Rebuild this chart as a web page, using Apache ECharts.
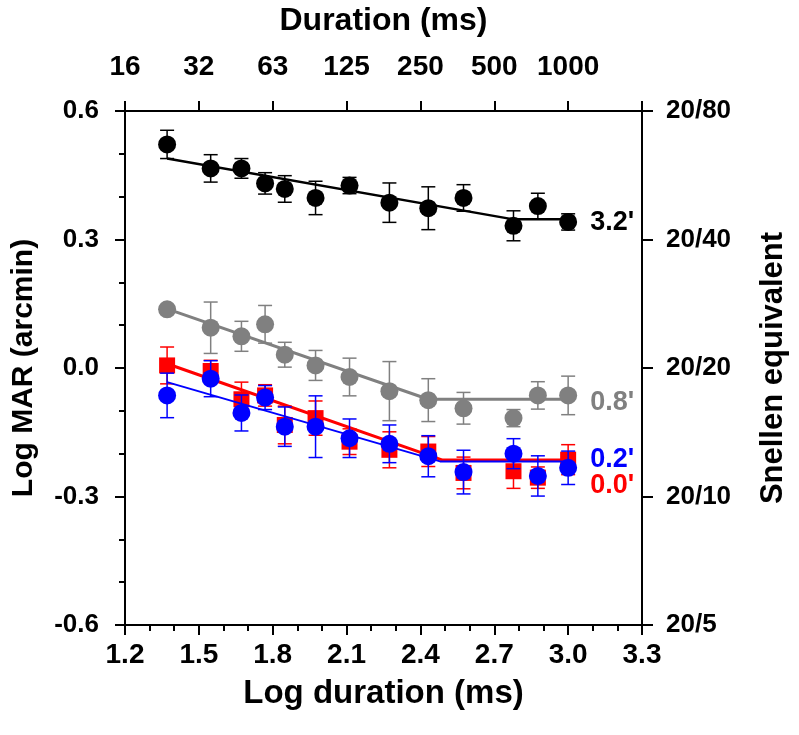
<!DOCTYPE html>
<html>
<head>
<meta charset="utf-8">
<script src="https://cdn.jsdelivr.net/npm/echarts@6/dist/echarts.min.js"></script>
<style>html,body{margin:0;padding:0;background:#fff;}#c{width:799px;height:735px;}</style>
</head>
<body>
<div id="c"></div>
<script>
// ---- data ----
const logDuration = [1.371, 1.548, 1.673, 1.769, 1.849, 1.974, 2.112, 2.274, 2.432, 2.575, 2.778, 2.877, 3.0];

const black32 = [0.522, 0.466, 0.466, 0.431, 0.418, 0.397, 0.426, 0.386, 0.373, 0.397, 0.332, 0.378, 0.341];
const black32Err = [0.033, 0.032, 0.023, 0.025, 0.031, 0.039, 0.019, 0.046, 0.050, 0.031, 0.035, 0.030, 0.019];

const gray08 = [0.137, 0.094, 0.074, 0.102, 0.031, 0.006, -0.021, -0.054, -0.075, -0.094, -0.117, -0.064, -0.064];
const gray08Err = [0.010, 0.060, 0.035, 0.044, 0.029, 0.035, 0.044, 0.069, 0.050, 0.037, 0.020, 0.032, 0.045];

const red00 = [0.006, -0.007, -0.073, -0.064, -0.133, -0.117, -0.172, -0.191, -0.195, -0.245, -0.241, -0.256, -0.214];
const red00Err = [0.043, 0.025, 0.040, 0.025, 0.044, 0.040, 0.030, 0.042, 0.035, 0.037, 0.040, 0.025, 0.035];

const blue02 = [-0.064, -0.025, -0.105, -0.069, -0.137, -0.137, -0.164, -0.177, -0.206, -0.243, -0.200, -0.252, -0.233];
const blue02Err = [0.052, 0.042, 0.042, 0.028, 0.046, 0.072, 0.045, 0.044, 0.048, 0.051, 0.035, 0.047, 0.039];

// bilinear fits: [x, y] vertices
const fitBlack = [[1.371, 0.489], [2.778, 0.347], [3.0, 0.347]];
const fitGray = [[1.371, 0.138], [2.432, -0.073], [3.0, -0.073]];
const fitRed = [[1.371, 0.010], [2.49, -0.215], [3.0, -0.215]];
const fitBlue = [[1.371, -0.033], [2.48, -0.218], [3.0, -0.218]];

const seriesNames = ["3.2'", "0.8'", "0.0'", "0.2'"];

// axis tick labels
const bottomTicks = [1.2, 1.5, 1.8, 2.1, 2.4, 2.7, 3.0, 3.3];
const topTickLabels = ['16', '32', '63', '125', '250', '500', '1000', ''];
const leftTicks = [-0.6, -0.3, 0.0, 0.3, 0.6];
const snellenLabels = ['20/5', '20/10', '20/20', '20/40', '20/80'];

// ---- helpers ----
function pts(ys) { return logDuration.map((x, i) => [x, ys[i]]); }
function errData(ys, es) { return logDuration.map((x, i) => [x, ys[i] - es[i], ys[i] + es[i]]); }
function nearestIdx(arr, v) { let b = 0; for (let i = 1; i < arr.length; i++) if (Math.abs(arr[i] - v) < Math.abs(arr[b] - v)) b = i; return b; }

function errSeries(ys, es, color, z) {
  return {
    type: 'custom', xAxisIndex: 0, yAxisIndex: 0, z: z, silent: true,
    data: errData(ys, es),
    renderItem: function (params, api) {
      const x = api.value(0);
      const lo = api.coord([x, api.value(1)]);
      const hi = api.coord([x, api.value(2)]);
      const w = 7;
      const st = { stroke: color, lineWidth: 1.5 };
      return {
        type: 'group',
        children: [
          { type: 'line', shape: { x1: lo[0], y1: lo[1], x2: hi[0], y2: hi[1] }, style: st },
          { type: 'line', shape: { x1: lo[0] - w, y1: lo[1], x2: lo[0] + w, y2: lo[1] }, style: st },
          { type: 'line', shape: { x1: hi[0] - w, y1: hi[1], x2: hi[0] + w, y2: hi[1] }, style: st }
        ]
      };
    }
  };
}
function fitSeries(d, color, width, z, name, off) {
  return {
    type: 'line', xAxisIndex: 0, yAxisIndex: 0, data: d, z: z, symbol: 'none', silent: true,
    lineStyle: { color: color, width: width },
    endLabel: { show: true, formatter: name, color: color, fontSize: 27, fontWeight: 'bold',
      fontFamily: 'Liberation Sans, Arial, sans-serif', offset: off }
  };
}
function dotSeries(ys, color, symbol, size, z) {
  return {
    type: 'scatter', xAxisIndex: 0, yAxisIndex: 0, data: pts(ys), z: z, silent: true,
    symbol: symbol, symbolSize: size, itemStyle: { color: color, opacity: 1 }
  };
}

const axisLineStyle = { onZero: false, lineStyle: { color: '#000', width: 2 } };
const tickLine = { color: '#000', width: 2 };
const narrowFont = 'Liberation Sans Narrow, Arial Narrow, Liberation Sans, sans-serif';
const wideFont = 'Liberation Sans, Arial, sans-serif';

const chart = echarts.init(document.getElementById('c'));
chart.setOption({
  animation: false,
  backgroundColor: '#fff',
  grid: { left: 125, right: 157, top: 108, bottom: 110, containLabel: false },
  xAxis: [
    {
      type: 'value', position: 'bottom', min: 1.2, max: 3.3, interval: 0.3,
      axisLine: axisLineStyle, splitLine: { show: false },
      axisTick: { show: true, length: 10, lineStyle: tickLine },
      minorTick: { show: true, splitNumber: 3, length: 6, lineStyle: tickLine },
      axisLabel: { margin: 16, fontSize: 28, fontWeight: 'bold', color: '#000', fontFamily: narrowFont,
        formatter: v => bottomTicks[nearestIdx(bottomTicks, v)].toFixed(1) },
      name: 'Log duration (ms)', nameLocation: 'middle', nameGap: 52,
      nameTextStyle: { fontSize: 33, fontWeight: 'bold', color: '#000', fontFamily: narrowFont }
    },
    {
      type: 'value', position: 'top', min: 1.2, max: 3.3, interval: 0.3,
      axisLine: axisLineStyle, splitLine: { show: false },
      axisTick: { show: true, length: 10, lineStyle: tickLine },
      axisLabel: { margin: 30, fontSize: 28, fontWeight: 'bold', color: '#000', fontFamily: narrowFont,
        formatter: v => topTickLabels[nearestIdx(bottomTicks, v)] },
      name: 'Duration (ms)', nameLocation: 'middle', nameGap: 74,
      nameTextStyle: { fontSize: 32, fontWeight: 'bold', color: '#000', fontFamily: narrowFont }
    }
  ],
  yAxis: [
    {
      type: 'value', position: 'left', min: -0.6, max: 0.6, interval: 0.3,
      axisLine: axisLineStyle, splitLine: { show: false },
      axisTick: { show: true, length: 10, lineStyle: tickLine },
      minorTick: { show: true, splitNumber: 3, length: 6, lineStyle: tickLine },
      axisLabel: { margin: 26, fontSize: 26, fontWeight: 'bold', color: '#000', fontFamily: wideFont,
        formatter: v => { const t = leftTicks[nearestIdx(leftTicks, v)]; return Math.abs(t) < 1e-9 ? '0.0' : t.toFixed(1); } },
      name: 'Log MAR (arcmin)', nameLocation: 'middle', nameGap: 86, nameRotate: 90,
      nameTextStyle: { fontSize: 30, fontWeight: 'bold', color: '#000', fontFamily: wideFont }
    },
    {
      type: 'value', position: 'right', min: -0.6, max: 0.6, interval: 0.3,
      axisLine: axisLineStyle, splitLine: { show: false },
      axisTick: { show: true, length: 11, lineStyle: tickLine },
      axisLabel: { margin: 24, fontSize: 26, fontWeight: 'bold', color: '#000', fontFamily: wideFont,
        formatter: v => snellenLabels[nearestIdx(leftTicks, v)] },
      name: 'Snellen equivalent', nameLocation: 'middle', nameGap: 116, nameRotate: 90,
      nameTextStyle: { fontSize: 31, fontWeight: 'bold', color: '#000', fontFamily: wideFont }
    }
  ],
  series: [
    fitSeries(fitBlack, '#000000', 2.5, 2, seriesNames[0], [14, 3]),
    errSeries(black32, black32Err, '#000000', 3),
    dotSeries(black32, '#000000', 'circle', 18, 4),

    fitSeries(fitGray, '#808080', 3, 2, seriesNames[1], [14, 3]),
    errSeries(gray08, gray08Err, '#808080', 3),
    dotSeries(gray08, '#808080', 'circle', 18, 4),

    fitSeries(fitRed, '#ff0000', 3, 5, seriesNames[2], [14, 25]),
    errSeries(red00, red00Err, '#ff0000', 6),
    dotSeries(red00, '#ff0000', 'rect', 16, 7),

    fitSeries(fitBlue, '#0000ff', 2, 8, seriesNames[3], [14, -2]),
    errSeries(blue02, blue02Err, '#0000ff', 9),
    dotSeries(blue02, '#0000ff', 'circle', 18, 10)
  ]
});
</script>
</body>
</html>
